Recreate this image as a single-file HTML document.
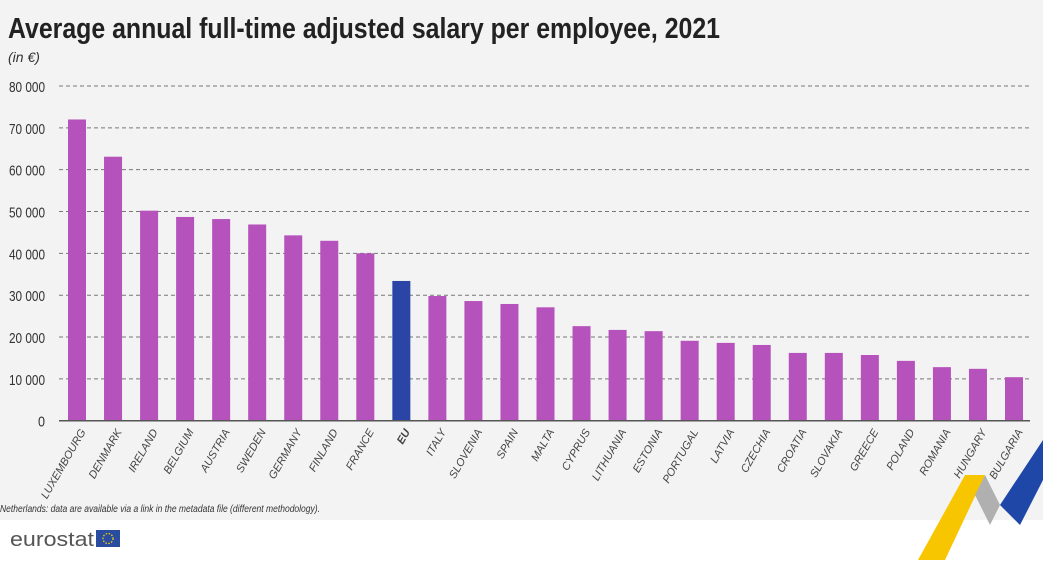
<!DOCTYPE html>
<html><head><meta charset="utf-8"><style>
body{margin:0;width:1043px;height:560px;overflow:hidden;background:#fff;font-family:"Liberation Sans Narrow","Liberation Sans",sans-serif}
</style></head><body>
<svg width="1043" height="560" xmlns="http://www.w3.org/2000/svg">
<rect x="0" y="0" width="1043" height="520" fill="#f3f3f3"/>
<text x="8" y="38" font-size="29" font-weight="bold" fill="#222" textLength="712" lengthAdjust="spacingAndGlyphs">Average annual full-time adjusted salary per employee, 2021</text>
<text x="8" y="62" font-size="14" font-style="italic" fill="#333">(in €)</text>
<g id="grid"></g><g id="bars"></g><g id="labels"></g>
<text x="0" y="512" font-size="10" font-style="italic" fill="#333" textLength="320" lengthAdjust="spacingAndGlyphs">Netherlands: data are available via a link in the metadata file (different methodology).</text>
<text x="10" y="546" font-size="20" fill="#555" textLength="84" lengthAdjust="spacingAndGlyphs">eurostat</text>
<rect x="96" y="530" width="24" height="17" fill="#2a4ca0"/>
<circle cx="108" cy="538.5" r="5" fill="none" stroke="#f5d000" stroke-width="1.3" stroke-dasharray="1.5 1.5"/>
<g>
<polygon points="965,475 985,475 945,560 918,560" fill="#f7c600"/>
<polygon points="985,475 1000,505 990,525 975,495" fill="#b0b0b0"/>
<polygon points="1043,440 1043,480 1020,525 1000,505" fill="#1f47a8"/>
</g>
</svg>
<script>
const categories=["LUXEMBOURG","DENMARK","IRELAND","BELGIUM","AUSTRIA","SWEDEN","GERMANY","FINLAND","FRANCE","EU","ITALY","SLOVENIA","SPAIN","MALTA","CYPRUS","LITHUANIA","ESTONIA","PORTUGAL","LATVIA","CZECHIA","CROATIA","SLOVAKIA","GREECE","POLAND","ROMANIA","HUNGARY","BULGARIA"];
const values=[72000,63100,50200,48700,48200,46900,44300,43000,40000,33400,29800,28600,27900,27100,22600,21700,21400,19100,18600,18100,16200,16200,15700,14300,12800,12400,10400];
const yTicks=[0,10000,20000,30000,40000,50000,60000,70000,80000];
const tickLabels=["0","10 000","20 000","30 000","40 000","50 000","60 000","70 000","80 000"];
const NS="http://www.w3.org/2000/svg";
const y0=420.7,yMax=86,vMax=80000,x0=59,x1=1030,c0=77,step=(1014-77)/26,bw=18;
const y=v=>y0-(v/vMax)*(y0-yMax);
const x=i=>c0+i*step;
const g=document.getElementById('grid'),b=document.getElementById('bars'),l=document.getElementById('labels');
function mk(t,a){const e=document.createElementNS(NS,t);for(const k in a)e.setAttribute(k,a[k]);return e;}
yTicks.forEach((v,i)=>{
  if(v>0){const ln=mk('line',{x1:x0,x2:x1,y1:y(v),y2:y(v),stroke:'#777','stroke-width':1,'stroke-dasharray':'4 3'});
  
  g.appendChild(ln);}
  const s=tickLabels[i];
  const w=s.length===1?7:s.length*6;
  const t=mk('text',{x:45-w,y:y(v)+6,'font-size':15,fill:'#333',textLength:w,lengthAdjust:'spacingAndGlyphs'});
  t.textContent=s;
  
  g.appendChild(t);
});
values.forEach((v,i)=>{
  const r=mk('rect',{x:x(i)-bw/2,y:y(v),width:bw,height:y0-y(v),fill:categories[i]==='EU'?'#2a45a6':'#b552bc'});
  
  b.appendChild(r);
  const t=mk('text',{transform:`translate(${x(i)+9},${y0+11}) rotate(-60)`,'font-size':11,'font-style':'italic','font-weight':categories[i]==='EU'?'bold':'normal',fill:'#444','text-anchor':'end'});
  t.textContent=categories[i];
  
  l.appendChild(t);
});
const ax=mk('line',{x1:x0,x2:x1,y1:y0,y2:y0,stroke:'#555','stroke-width':1.5});

b.appendChild(ax);
</script>
</body></html>
